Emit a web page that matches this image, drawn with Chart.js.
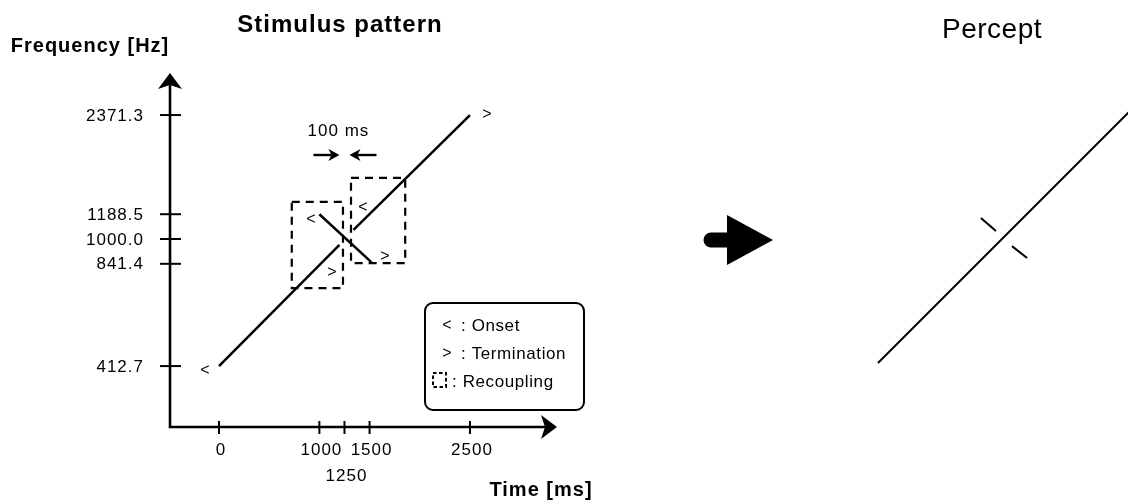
<!DOCTYPE html>
<html><head><meta charset="utf-8">
<script src="https://cdn.jsdelivr.net/npm/chart.js@4.4.1/dist/chart.umd.min.js"></script>
<style>
html,body{margin:0;padding:0;background:#fff;overflow:hidden;width:1128px;height:504px;}
#a{position:absolute;left:0;top:0;}
#b{position:absolute;left:659px;top:0;}
</style></head><body>
<canvas id="a" width="1128" height="504"></canvas>
<canvas id="b" width="660" height="504"></canvas>
<script>
// ---- data ----
const xTicks = [0, 1000, 1250, 1500, 2500];
const xTickLabels = ['0', '1000', '1250', '1500', '2500'];
const yTicks = [412.7, 841.4, 1000.0, 1188.5, 2371.3];
const yTickLabels = ['412.7', '841.4', '1000.0', '1188.5', '2371.3'];

const ascendingLower = [{x: 0, y: 412.7}, {x: 1200, y: 960}];
const ascendingUpper = [{x: 1340, y: 1065}, {x: 2500, y: 2371.3}];
const descending = [{x: 1000, y: 1188.5}, {x: 1520, y: 850}];

const recouplingLeft = [{x: 725, y: 1295}, {x: 1235, y: 1295}, {x: 1235, y: 710}, {x: 725, y: 710}, {x: 725, y: 1295}];
const recouplingRight = [{x: 1315, y: 1530}, {x: 1855, y: 1530}, {x: 1855, y: 845}, {x: 1315, y: 845}, {x: 1315, y: 1530}];

const onsetMarkers = [{x: -140, y: 401}, {x: 916, y: 1141}, {x: 1434, y: 1241}];
const terminationMarkers = [{x: 2670, y: 2371.3}, {x: 1125, y: 789}, {x: 1653, y: 882}];

const gapStart = 1200, gapEnd = 1300;
const gapLabel = '100 ms';

const perceptLine = [{x: 0, y: 412.7}, {x: 2500, y: 2371.3}];
const perceptUpperTick = [{x: 1025, y: 1133}, {x: 1175, y: 1035}];
const perceptLowerTick = [{x: 1335, y: 932}, {x: 1485, y: 858}];

const legendItems = [['<', 'Onset'], ['>', 'Termination'], ['box', 'Recoupling']];

// ---- helpers ----
const FONT = '"Liberation Sans", Arial, sans-serif';
const xMin = -488, xMax = 3367, yMin = 270, yMax = 3178;

function txt(ctx, s, x, y, font, align, base, ls) {
  ctx.save();
  ctx.font = font;
  ctx.letterSpacing = ls || '0px';
  ctx.textAlign = align || 'center';
  ctx.textBaseline = base || 'middle';
  ctx.fillStyle = '#000';
  ctx.fillText(s, x, y);
  ctx.restore();
}
function lineDS(data, extra) {
  return Object.assign({data, borderColor: '#000', borderWidth: 2.5, pointRadius: 0,
    showLine: true, fill: false, tension: 0, clip: false, borderCapStyle: 'butt'}, extra || {});
}
function smallArrow(ctx, fromX, tipX, yy) {
  const dir = Math.sign(tipX - fromX);
  ctx.beginPath(); ctx.moveTo(fromX, yy); ctx.lineTo(tipX - dir * 8, yy); ctx.stroke();
  ctx.beginPath(); ctx.moveTo(tipX, yy); ctx.lineTo(tipX - dir * 11, yy - 6);
  ctx.lineTo(tipX - dir * 8, yy); ctx.lineTo(tipX - dir * 11, yy + 6); ctx.closePath(); ctx.fill();
}

const stimulusPlugin = {
  id: 'stim',
  afterDraw(chart) {
    const {ctx, chartArea: a, scales: {x, y}} = chart;
    ctx.save();
    ctx.strokeStyle = '#000'; ctx.fillStyle = '#000';
    // axes
    ctx.lineWidth = 2.6;
    ctx.beginPath();
    ctx.moveTo(a.left, a.bottom + 1.3); ctx.lineTo(a.left, a.top + 10);
    ctx.moveTo(a.left - 1.3, a.bottom); ctx.lineTo(a.right - 10, a.bottom);
    ctx.stroke();
    ctx.beginPath();
    ctx.moveTo(a.left, a.top); ctx.lineTo(a.left + 12, a.top + 16);
    ctx.lineTo(a.left, a.top + 12); ctx.lineTo(a.left - 12, a.top + 16); ctx.closePath(); ctx.fill();
    ctx.beginPath();
    ctx.moveTo(a.right, a.bottom); ctx.lineTo(a.right - 16, a.bottom - 12);
    ctx.lineTo(a.right - 12, a.bottom); ctx.lineTo(a.right - 16, a.bottom + 12); ctx.closePath(); ctx.fill();

    // y ticks
    ctx.lineWidth = 2;
    yTicks.forEach((v, i) => {
      const py = y.getPixelForValue(v);
      ctx.beginPath(); ctx.moveTo(a.left - 10, py); ctx.lineTo(a.left + 11, py); ctx.stroke();
      txt(ctx, yTickLabels[i], a.left - 26, py + 1, '17px ' + FONT, 'right', 'middle', '1px');
    });
    // x ticks (stagger crowded labels)
    let prevPx = -1e9, prevRow = 1;
    xTicks.forEach((v, i) => {
      const px = x.getPixelForValue(v);
      ctx.beginPath(); ctx.moveTo(px, a.bottom - 6); ctx.lineTo(px, a.bottom + 7); ctx.stroke();
      const row = (px - prevPx < 32 && prevRow === 0) ? 1 : 0;
      txt(ctx, xTickLabels[i], px + 2, a.bottom + 23 + row * 26, '17px ' + FONT, 'center', 'middle', '1px');
      prevPx = px; prevRow = row;
    });

    // onset / termination markers
    onsetMarkers.forEach(p => txt(ctx, '<', x.getPixelForValue(p.x), y.getPixelForValue(p.y), '16px ' + FONT));
    terminationMarkers.forEach(p => txt(ctx, '>', x.getPixelForValue(p.x), y.getPixelForValue(p.y), '16px ' + FONT));

    // 100 ms annotation
    const g1 = x.getPixelForValue(gapStart), g2 = x.getPixelForValue(gapEnd);
    txt(ctx, gapLabel, (g1 + g2) / 2 - 6, 131, '17px ' + FONT, 'center', 'middle', '1px');
    ctx.lineWidth = 2.4;
    smallArrow(ctx, g1 - 26, g1, 155);
    smallArrow(ctx, g2 + 27, g2, 155);

    // titles
    txt(ctx, 'Stimulus pattern', 340, 25, 'bold 24px ' + FONT, 'center', 'middle', '1px');
    txt(ctx, 'Frequency [Hz]', 90, 46, 'bold 20px ' + FONT, 'center', 'middle', '1px');
    txt(ctx, 'Time [ms]', 541, 490, 'bold 20px ' + FONT, 'center', 'middle', '1px');

    // legend
    const L = {x: 425, y: 303, w: 159, h: 107};
    ctx.lineWidth = 2;
    ctx.beginPath(); ctx.roundRect(L.x, L.y, L.w, L.h, 8); ctx.stroke();
    legendItems.forEach((it, i) => {
      const ry = L.y + 22 + i * 28;
      if (it[0] === 'box') {
        ctx.save(); ctx.lineWidth = 2; ctx.setLineDash([3.5, 2.5]);
        ctx.strokeRect(L.x + 8, ry - 8, 13, 14); ctx.restore();
        txt(ctx, ': ' + it[1], L.x + 27, ry + 1, '17px ' + FONT, 'left', 'middle', '0.6px');
      } else {
        txt(ctx, it[0], L.x + 22, ry + 1, '16px ' + FONT);
        txt(ctx, ': ' + it[1], L.x + 36, ry + 1, '17px ' + FONT, 'left', 'middle', '0.6px');
      }
    });
    ctx.restore();
  }
};

const perceptPlugin = {
  id: 'perc',
  afterDraw(chart) {
    const {ctx} = chart;
    ctx.save();
    txt(ctx, 'Percept', 333, 30, '28px ' + FONT, 'center', 'middle', '0.5px');
    // big arrow between panels
    ctx.fillStyle = '#000'; ctx.strokeStyle = '#000';
    ctx.lineCap = 'round'; ctx.lineWidth = 15;
    ctx.beginPath(); ctx.moveTo(52, 240); ctx.lineTo(75, 240); ctx.stroke();
    ctx.beginPath(); ctx.moveTo(68, 215); ctx.lineTo(114, 240); ctx.lineTo(68, 265); ctx.closePath(); ctx.fill();
    ctx.restore();
  }
};

const commonOpts = (pad) => ({
  responsive: false, animation: false, events: [],
  layout: {padding: pad},
  plugins: {legend: {display: false}, tooltip: {enabled: false}, title: {display: false}},
  scales: {
    x: {type: 'linear', min: xMin, max: xMax, display: false, bounds: 'data'},
    y: {type: 'logarithmic', min: yMin, max: yMax, display: false, bounds: 'data'}
  }
});

new Chart(document.getElementById('a'), {
  type: 'scatter',
  data: {datasets: [
    lineDS(ascendingLower), lineDS(ascendingUpper), lineDS(descending),
    lineDS(recouplingLeft, {borderDash: [8, 6], borderWidth: 2.2}),
    lineDS(recouplingRight, {borderDash: [8, 6], borderWidth: 2.2})
  ]},
  options: commonOpts({left: 170, top: 73, right: 1128 - 557, bottom: 504 - 427}),
  plugins: [stimulusPlugin]
});

new Chart(document.getElementById('b'), {
  type: 'scatter',
  data: {datasets: [
    lineDS(perceptLine, {borderWidth: 2}),
    lineDS(perceptUpperTick, {borderWidth: 2}),
    lineDS(perceptLowerTick, {borderWidth: 2})
  ]},
  options: commonOpts({left: 170, top: 70, right: 660 - 557, bottom: 504 - 424}),
  plugins: [perceptPlugin]
});
</script>
</body></html>
